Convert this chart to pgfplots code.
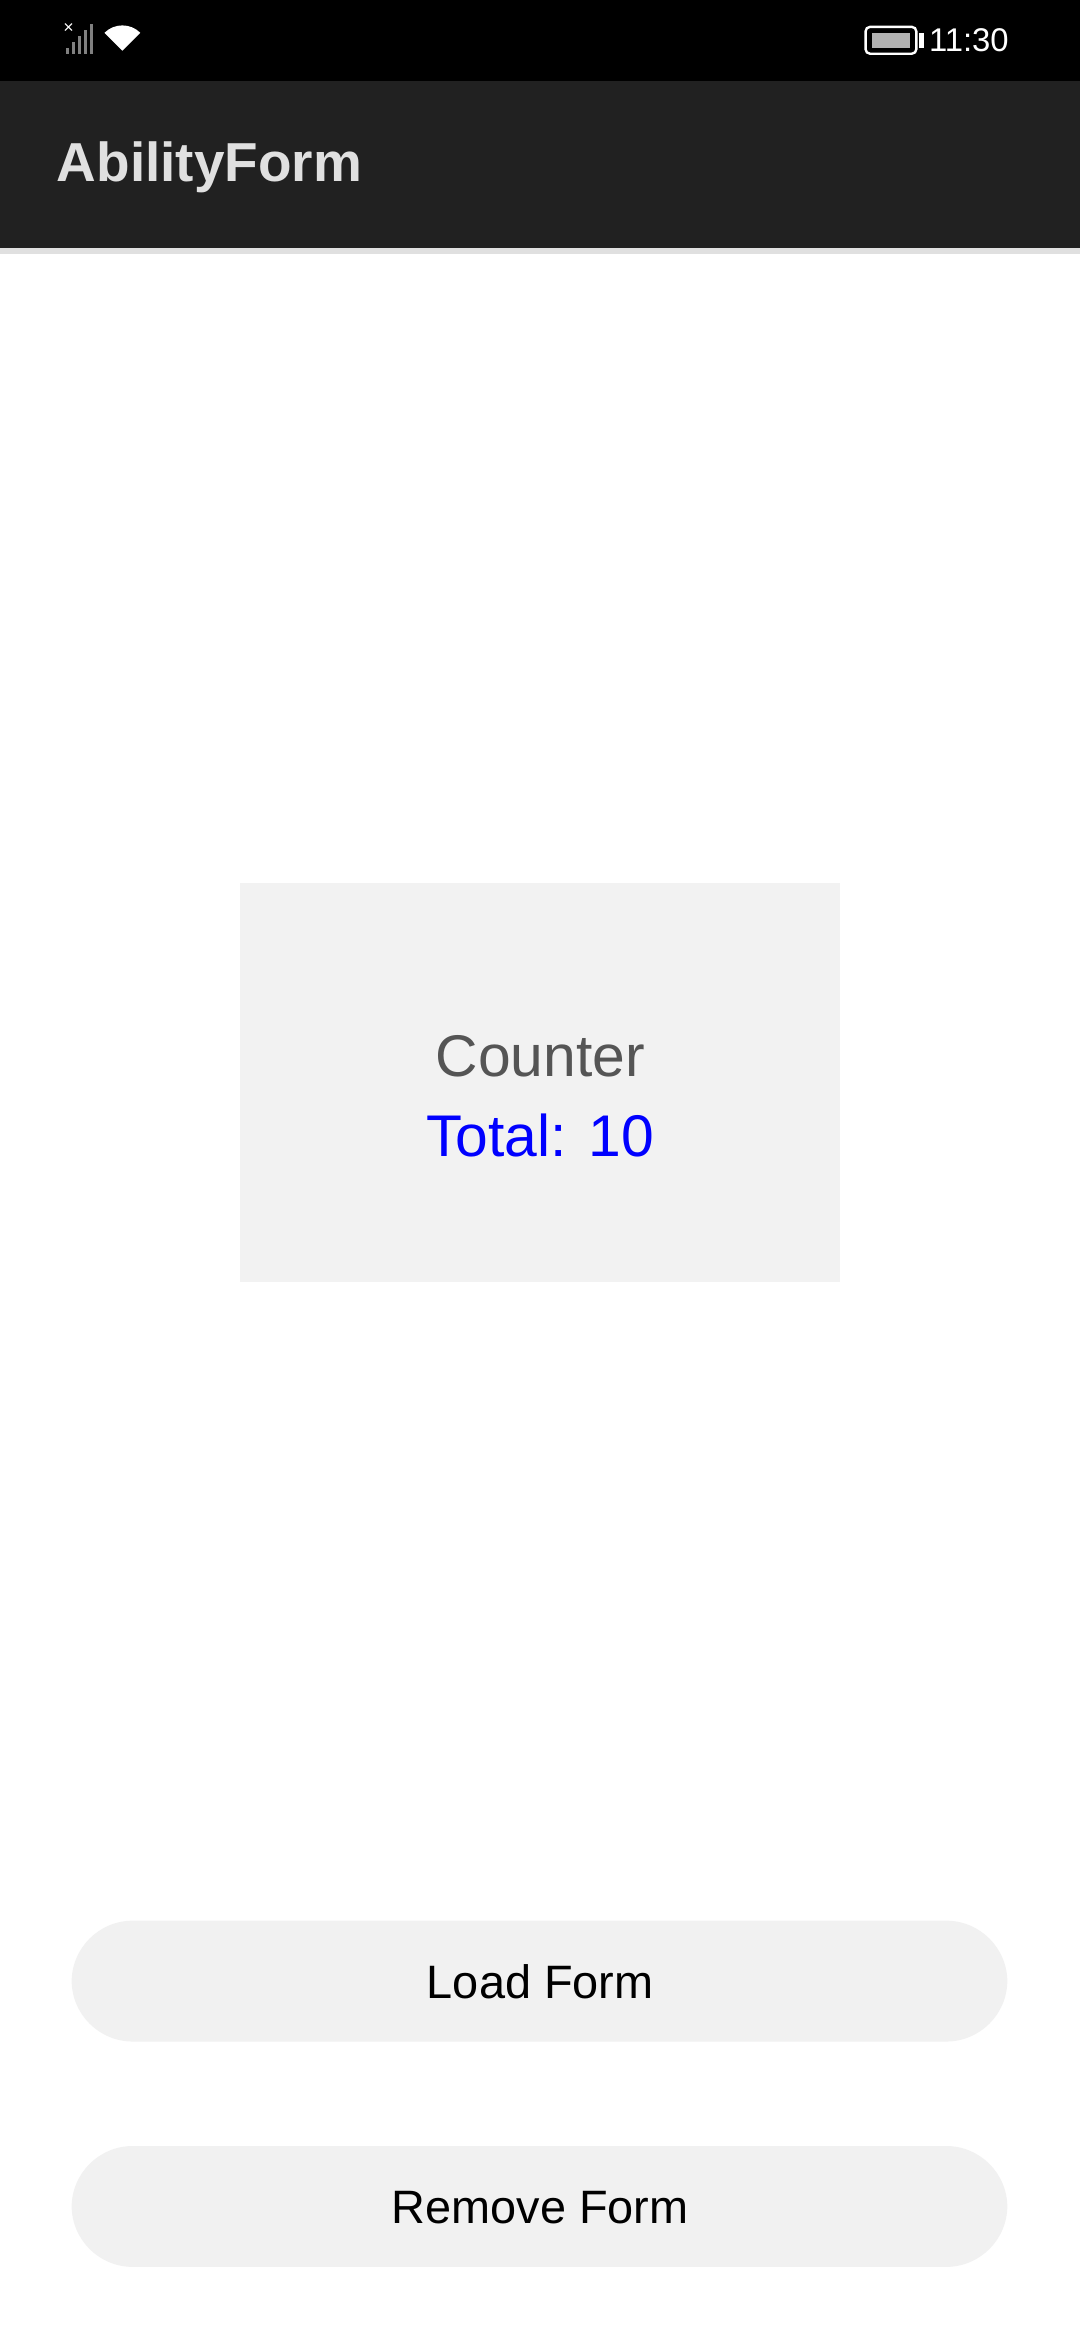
\documentclass[border=0pt]{standalone}
\usepackage{pgfplots}
\pgfplotsset{compat=1.18}
\usepackage{fontspec}
\setmainfont{Liberation Sans}
\definecolor{appbar}{HTML}{212121}
\definecolor{boxg}{HTML}{F2F2F2}
\definecolor{btn}{HTML}{F1F1F1}
\definecolor{ctr}{HTML}{555555}
\begin{document}
\begin{tikzpicture}
\begin{axis}[scale only axis, width=362pt, height=784pt,
  xmin=0, xmax=724, ymin=0, ymax=1568, y dir=reverse,
  axis lines=none, clip=false]
\fill[white] (axis cs:0,0) rectangle (axis cs:724,1568);
% status bar
\fill[black] (axis cs:0,0) rectangle (axis cs:724,54);
\node[white, font=\fontsize{11}{11}\selectfont, anchor=east] at (axis cs:683,27) {11:30};
% battery
\draw[white, line width=0.8pt, rounded corners=1.5pt] (axis cs:580,18) rectangle (axis cs:614,36);
\fill[white] (axis cs:616,22) rectangle (axis cs:619,32);
\fill[white!70!black] (axis cs:584,22) rectangle (axis cs:610,32);
% signal
\fill[gray] (axis cs:44,36) rectangle (axis cs:46.5,32);
\fill[gray] (axis cs:48,36) rectangle (axis cs:50.5,28);
\fill[gray] (axis cs:52,36) rectangle (axis cs:54.5,24);
\fill[gray] (axis cs:56,36) rectangle (axis cs:58.5,20);
\fill[gray] (axis cs:60,36) rectangle (axis cs:62.5,16);
\node[white, font=\fontsize{6}{6}\selectfont] at (axis cs:46,19) {×};
% wifi
\fill[white] (axis cs:82,34) -- (axis cs:70,22) arc[start angle=135, end angle=45, radius=8.5pt] -- cycle;
% app bar
\fill[black!12] (axis cs:0,166) rectangle (axis cs:724,170);
\fill[appbar] (axis cs:0,54) rectangle (axis cs:724,166);
\node[anchor=west, text=white!88!black, font=\fontsize{18.4}{20}\selectfont\bfseries] at (axis cs:31,112) {AbilityForm};
% form box
\fill[boxg] (axis cs:161,592) rectangle (axis cs:563,859);
\node[text=ctr, font=\fontsize{19.7}{20}\selectfont] at (axis cs:362,708) {Counter};
\node[text=blue, font=\fontsize{19.7}{20}\selectfont] at (axis cs:362,761) {Total: 10};
% buttons
\fill[btn, rounded corners=20.5pt] (axis cs:48,1287) rectangle (axis cs:675,1368);
\node[font=\fontsize{15.7}{16}\selectfont] at (axis cs:362,1328) {Load Form};
\fill[btn, rounded corners=20.5pt] (axis cs:48,1438) rectangle (axis cs:675,1519);
\node[font=\fontsize{15.7}{16}\selectfont] at (axis cs:362,1479) {Remove Form};
\end{axis}
\end{tikzpicture}
\end{document}
